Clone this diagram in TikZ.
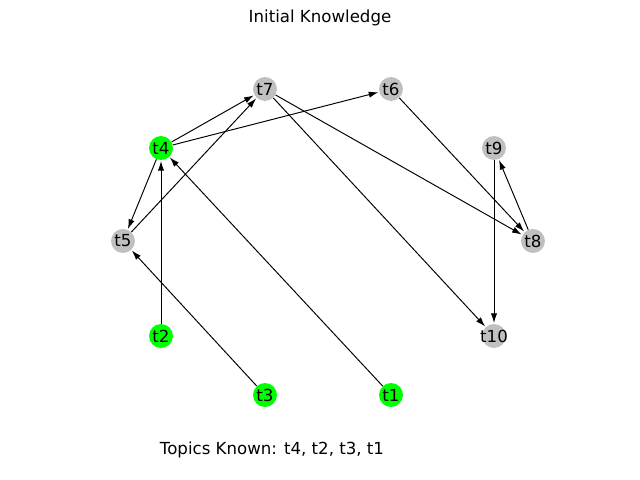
\documentclass[tikz,border=0pt]{standalone}
\usepackage{fontspec}
\setmainfont{DejaVu Sans}
\usetikzlibrary{arrows.meta}
\definecolor{knowngreen}{HTML}{00FF00}
\definecolor{topicgray}{HTML}{C0C0C0}
\begin{document}
\begin{tikzpicture}[x=0.01in, y=-0.01in, >={Latex[length=7pt,width=4.5pt]},
  topic/.style={circle, fill=topicgray, minimum size=17.3pt, inner sep=0pt,
    label={[font=\fontsize{12}{14}\selectfont, inner sep=0pt]center:#1}},
  known/.style={topic=#1, fill=knowngreen},
  link/.style={->, line width=0.7pt, shorten >=0.5pt}]
\useasboundingbox (0,0) rectangle (640,480);
\node[font=\fontsize{12}{14}\selectfont] (title) at (320,18) {Initial Knowledge};
\node[font=\fontsize{12}{14}\selectfont] (summary) at (272,450) {Topics Known: t4, t2, t3, t1};

\node[topic=t7] (t7) at (265,89) {};
\node[topic=t6] (t6) at (391,89) {};
\node[known=t4] (t4) at (161,148) {};
\node[topic=t9] (t9) at (494,148) {};
\node[topic=t5] (t5) at (123,241) {};
\node[topic=t8] (t8) at (533,241) {};
\node[known=t2] (t2) at (161,336) {};
\node[topic=t10] (t10) at (494,336) {};
\node[known=t3] (t3) at (265,395) {};
\node[known=t1] (t1) at (391,395) {};

\draw[link] (t4) -- (t7);
\draw[link] (t4) -- (t6);
\draw[link] (t4) -- (t5);
\draw[link] (t5) -- (t7);
\draw[link] (t2) -- (t4);
\draw[link] (t3) -- (t5);
\draw[link] (t1) -- (t4);
\draw[link] (t7) -- (t8);
\draw[link] (t7) -- (t10);
\draw[link] (t6) -- (t8);
\draw[link] (t8) -- (t9);
\draw[link] (t9) -- (t10);
\end{tikzpicture}
\end{document}
